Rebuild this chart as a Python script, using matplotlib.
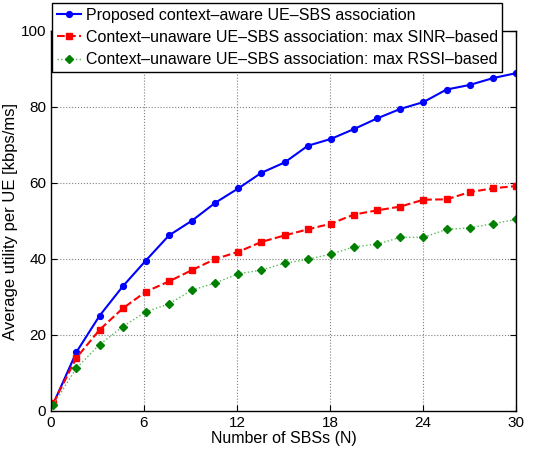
import matplotlib
matplotlib.use("Agg")
import matplotlib.pyplot as plt

plt.rcParams['font.family'] = ['Liberation Sans', 'DejaVu Sans']

# === DATOS ===
n_sbs = [0.15, 1.64, 3.14, 4.63, 6.12, 7.61, 9.10, 10.60, 12.09, 13.58, 15.07,
         16.57, 18.06, 19.55, 21.04, 22.54, 24.03, 25.52, 27.01, 28.51, 30.0]
proposed = [1.9, 15.5, 25.1, 32.8, 39.6, 46.2, 50.1, 54.8, 58.6, 62.7, 65.4,
            69.8, 71.6, 74.2, 77.0, 79.5, 81.3, 84.6, 85.8, 87.6, 88.9]
max_sinr = [2.1, 14.0, 21.4, 27.0, 31.4, 34.1, 37.1, 40.0, 41.9, 44.5, 46.2,
            47.8, 49.3, 51.7, 52.8, 53.8, 55.6, 55.7, 57.6, 58.6, 59.2]
max_rssi = [1.7, 11.3, 17.5, 22.2, 26.1, 28.2, 31.8, 33.7, 36.1, 37.1, 38.9,
            39.9, 41.3, 43.2, 43.9, 45.7, 45.7, 47.8, 48.2, 49.3, 50.4]

x_ticks = [0, 6, 12, 18, 24, 30]
y_ticks = [0, 20, 40, 60, 80, 100]

fig = plt.figure(figsize=(5.45, 4.49), dpi=100)
ax = fig.add_axes([51 / 545, 1 - 411 / 449, 465 / 545, 380 / 449])

ax.plot(n_sbs, proposed, color='blue', linestyle='-', linewidth=1.5,
        marker='o', markersize=4.2, label='Proposed context\u2013aware UE\u2013SBS association')
ax.plot(n_sbs, max_sinr, color='red', linestyle='--', linewidth=1.5,
        marker='s', markersize=3.8, label='Context\u2013unaware UE\u2013SBS association: max SINR\u2013based')
ax.plot(n_sbs, max_rssi, color='#5cb85c', linestyle=':', linewidth=1.0,
        marker='D', markersize=3.6, markerfacecolor='green', markeredgecolor='green',
        label='Context\u2013unaware UE\u2013SBS association: max RSSI\u2013based')

ax.set_xlim(0, 30)
ax.set_ylim(0, 100)
ax.set_xticks(x_ticks)
ax.set_yticks(y_ticks)
ax.tick_params(direction='in', top=True, right=True, labelsize=11, length=4)
ax.grid(True, linestyle=':', color='gray', linewidth=0.8)
for s in ax.spines.values():
    s.set_linewidth(1.0)

ax.set_xlabel('Number of SBSs (N)', fontsize=11.5, labelpad=1)
ax.set_ylabel('Average utility per UE [kbps/ms]', fontsize=12, labelpad=2)

leg = ax.legend(loc='upper left', bbox_to_anchor=(52 / 545, 1 - 3 / 449),
                bbox_transform=fig.transFigure, borderaxespad=0, fancybox=False,
                edgecolor='black', framealpha=1, fontsize=11.5, handlelength=1.5,
                handletextpad=0.3, borderpad=0.3, labelspacing=0.45)
leg.get_frame().set_linewidth(1.0)

fig.savefig('out.png', dpi=100)
